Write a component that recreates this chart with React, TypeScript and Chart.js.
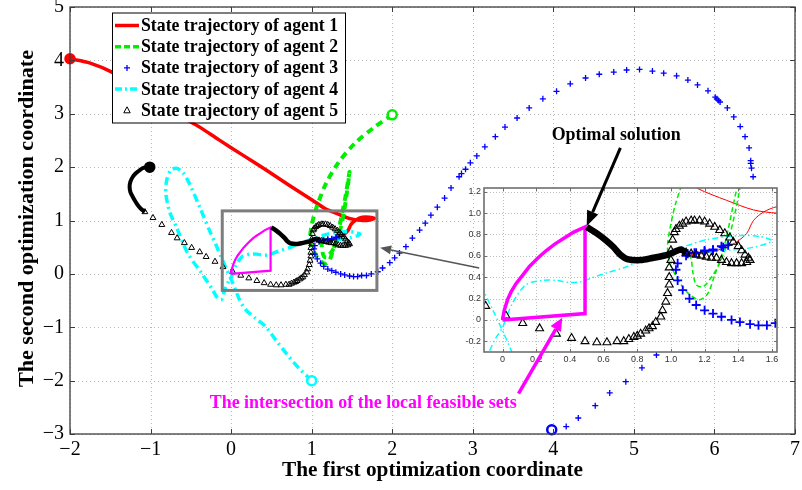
import React, { useEffect, useRef } from "react";
import { Chart, registerables } from "chart.js";
Chart.register(...registerables);

type P = [number, number];

// ---------- axis ticks ----------
const xTickValues = [-2, -1, 0, 1, 2, 3, 4, 5, 6, 7];
const yTickValues = [-3, -2, -1, 0, 1, 2, 3, 4, 5];
const insetXTickValues = [0, 0.2, 0.4, 0.6, 0.8, 1, 1.2, 1.4, 1.6];
const insetYTickValues = [-0.2, 0, 0.2, 0.4, 0.6, 0.8, 1, 1.2];

// ---------- texts ----------
const legendLabels = [
  "State trajectory of agent 1",
  "State trajectory of agent 2",
  "State trajectory of agent 3",
  "State trajectory of agent 4",
  "State trajectory of agent 5",
];
const xTitle = "The first optimization coordinate";
const yTitle = "The second optimization coordinate";
const optimalLabel = "Optimal solution";
const feasibleLabel = "The intersection of the local feasible sets";

// ---------- data ----------
const agent1: P[] = [
  [-2.0, 4.03], [-1.75, 3.95], [-1.48, 3.78], [-1.2, 3.52], [-0.9, 3.2], [-0.6, 2.93],
  [-0.38, 2.74], [-0.15, 2.51], [0.15, 2.22], [0.43, 1.95], [0.72, 1.66], [1.0, 1.39],
  [1.16, 1.23], [1.33, 1.12], [1.49, 1.03], [1.63, 1.0], [1.72, 1.01], [1.78, 1.04],
  [1.72, 1.06], [1.63, 1.06], [1.55, 1.01], [1.49, 0.93], [1.45, 0.81], [1.39, 0.73],
  [1.33, 0.68], [1.22, 0.63], [1.12, 0.61],
];

const agent2: P[] = [
  [2.0, 2.98], [1.78, 2.75], [1.54, 2.45], [1.33, 2.08], [1.18, 1.7], [1.08, 1.33],
  [1.03, 1.1], [1.0, 0.9], [0.98, 0.7], [0.99, 0.55], [1.02, 0.44], [1.06, 0.33],
  [1.11, 0.24], [1.17, 0.19], [1.22, 0.25], [1.26, 0.42], [1.31, 0.65], [1.34, 0.85],
  [1.38, 1.15], [1.42, 1.45], [1.47, 1.91], [1.44, 1.55], [1.4, 1.15], [1.35, 0.8],
  [1.29, 0.53], [1.24, 0.4], [1.19, 0.31], [1.15, 0.33], [1.13, 0.45], [1.12, 0.57],
  [1.1, 0.62],
];

const agent3: P[] = [
  [3.98, -2.92], [4.16, -2.86], [4.31, -2.7], [4.52, -2.47], [4.7, -2.23], [4.9, -2.02],
  [5.1, -1.76], [5.28, -1.52], [5.45, -1.25], [5.62, -0.97], [5.8, -0.66], [5.96, -0.33],
  [6.1, 0.02], [6.23, 0.38], [6.34, 0.75], [6.42, 1.12], [6.46, 1.48], [6.48, 1.82],
  [6.46, 1.98], [6.45, 2.07], [6.45, 2.12], [6.43, 2.36], [6.38, 2.57], [6.32, 2.76],
  [6.24, 2.94], [6.16, 3.11], [6.07, 3.22], [6.05, 3.25], [6.03, 3.28], [6.01, 3.31],
  [5.92, 3.43], [5.79, 3.54], [5.67, 3.63], [5.53, 3.71], [5.37, 3.76], [5.23, 3.8],
  [5.07, 3.83], [4.91, 3.82], [4.75, 3.78], [4.57, 3.74], [4.4, 3.67], [4.21, 3.56],
  [4.04, 3.42], [3.87, 3.28], [3.7, 3.11], [3.55, 2.92], [3.4, 2.75], [3.28, 2.57],
  [3.15, 2.38], [3.05, 2.21], [2.97, 2.08], [2.91, 1.96], [2.86, 1.88], [2.83, 1.82],
  [2.73, 1.61], [2.65, 1.42], [2.56, 1.25], [2.48, 1.1], [2.41, 0.95], [2.34, 0.82],
  [2.25, 0.67], [2.17, 0.51], [2.09, 0.39], [2.03, 0.3], [1.97, 0.21], [1.88, 0.11],
  [1.82, 0.04], [1.74, 0.0], [1.68, -0.03], [1.62, -0.03], [1.57, -0.05], [1.52, -0.05],
  [1.47, -0.04], [1.41, -0.02], [1.36, 0.0], [1.3, 0.03], [1.25, 0.06], [1.2, 0.09],
  [1.15, 0.14], [1.11, 0.2], [1.07, 0.28], [1.04, 0.37], [1.03, 0.47], [1.04, 0.53],
  [1.09, 0.6], [1.14, 0.63], [1.2, 0.64], [1.25, 0.65], [1.31, 0.68], [1.34, 0.7],
  [1.3, 0.69], [1.25, 0.66], [1.2, 0.65], [1.15, 0.63], [1.1, 0.62],
];

const agent4: P[] = [
  [1.0, -2.0], [0.85, -1.78], [0.7, -1.52], [0.56, -1.25], [0.43, -0.99], [0.3, -0.83],
  [0.18, -0.67], [0.1, -0.47], [0.05, -0.28], [0.0, -0.1], [-0.06, 0.1], [-0.12, 0.3],
  [-0.19, 0.55], [-0.27, 0.82], [-0.39, 1.25], [-0.52, 1.7], [-0.6, 1.9], [-0.68, 1.98],
  [-0.75, 1.94], [-0.8, 1.75], [-0.81, 1.5], [-0.76, 1.15], [-0.68, 0.88], [-0.54, 0.39],
  [-0.37, 0.02], [-0.23, -0.3], [-0.17, -0.45], [-0.12, -0.48], [-0.08, -0.3], [-0.04, -0.17],
  [0.0, -0.07], [0.06, 0.16], [0.14, 0.33], [0.24, 0.37], [0.32, 0.37], [0.4, 0.35],
  [0.47, 0.36], [0.54, 0.4], [0.62, 0.44], [0.74, 0.5], [0.82, 0.56], [1.01, 0.65],
  [1.21, 0.75], [1.41, 0.79], [1.53, 0.78], [1.6, 0.74], [1.49, 0.68], [1.33, 0.65],
  [1.17, 0.63], [1.08, 0.62],
];

const agent5Head: P[] = [
  [-1.01, 2.0], [-1.08, 1.99], [-1.13, 1.95], [-1.18, 1.89], [-1.22, 1.82], [-1.25, 1.73],
  [-1.26, 1.63], [-1.25, 1.53], [-1.22, 1.44], [-1.19, 1.36], [-1.16, 1.29], [-1.12, 1.22],
  [-1.07, 1.16],
];

const agent5Path: P[] = [
  [-1.07, 1.16], [-0.97, 1.05], [-0.86, 0.92], [-0.74, 0.77], [-0.67, 0.67], [-0.58, 0.58],
  [-0.49, 0.49], [-0.39, 0.41], [-0.31, 0.32], [-0.2, 0.23], [-0.1, 0.13], [0.02, 0.04],
  [0.12, -0.03], [0.22, -0.08], [0.32, -0.13], [0.41, -0.17], [0.49, -0.2], [0.56, -0.21],
  [0.62, -0.21], [0.68, -0.2], [0.72, -0.2], [0.75, -0.18], [0.78, -0.16], [0.8, -0.15],
  [0.82, -0.13], [0.85, -0.1], [0.87, -0.08], [0.89, -0.06], [0.91, -0.02], [0.94, 0.03],
  [0.95, 0.09], [0.97, 0.17], [0.98, 0.25], [0.99, 0.33], [0.99, 0.4], [0.99, 0.49],
  [1.0, 0.56], [1.0, 0.65], [1.01, 0.75], [1.02, 0.82], [1.03, 0.85], [1.05, 0.88],
  [1.07, 0.9], [1.09, 0.92], [1.12, 0.93], [1.14, 0.93], [1.17, 0.93], [1.2, 0.92],
  [1.23, 0.9], [1.26, 0.87], [1.29, 0.84], [1.32, 0.81], [1.35, 0.77], [1.37, 0.73],
  [1.4, 0.69], [1.42, 0.65], [1.44, 0.61], [1.46, 0.58], [1.47, 0.56], [1.45, 0.54],
  [1.42, 0.53], [1.39, 0.53], [1.36, 0.53], [1.33, 0.54], [1.3, 0.56], [1.27, 0.58],
  [1.24, 0.58], [1.21, 0.59], [1.18, 0.6], [1.15, 0.61], [1.12, 0.62], [1.09, 0.63],
];

const agent5Tail: P[] = [
  [1.09, 0.63], [1.06, 0.66], [1.04, 0.65], [1.01, 0.63], [0.98, 0.61], [0.89, 0.58],
  [0.82, 0.56], [0.74, 0.57], [0.7, 0.61], [0.66, 0.68], [0.61, 0.75], [0.56, 0.81],
  [0.5, 0.87],
];

const feasibleRegion: P[] = [
  [0, 0], [0.49, 0.06], [0.49, 0.87], [0.42, 0.82], [0.36, 0.76], [0.31, 0.71],
  [0.26, 0.65], [0.21, 0.58], [0.16, 0.5], [0.12, 0.42], [0.08, 0.34], [0.05, 0.26],
  [0.03, 0.19], [0.01, 0.09], [0, 0],
];

// ---------- annotation anchors (data coordinates) ----------
const zoomBox: P[] = [[-0.11, 1.18], [1.81, -0.31]];
const zoomArrow: P[] = [[3.08, 0.11], [1.85, 0.49]]; // main coords
const optimalArrow: P[] = [[0.7, 1.61], [0.5, 0.88]]; // inset coords
const feasibleArrow: P[] = [[0.095, -0.69], [0.355, 0.02]]; // inset coords
const optimalTextAt: P = [4.78, 2.6];
const feasibleTextAt: P = [1.64, -2.43];

// ---------- colours ----------
const RED = "#ff0000";
const GREEN = "#00ee00";
const BLUE = "#0000ff";
const CYAN = "#00ffff";
const MAGENTA = "#ff00ff";
const BLACK = "#000000";

const SERIF = '"Liberation Serif", "Times New Roman", serif';
const SANS = '"Liberation Sans", Arial, sans-serif';

const xy = (a: P[]) => a.map(([x, y]) => ({ x, y }));
const minus = (v: number) => String(v).replace("-", "\u2212");

function fitText(
  ctx: CanvasRenderingContext2D, text: string, x: number, y: number, size: number,
  width: number, color: string, align: "center" | "left" = "center", rotate = 0
) {
  ctx.save();
  ctx.font = `bold ${size}px ${SERIF}`;
  const w = ctx.measureText(text).width;
  ctx.translate(x, y);
  if (rotate) ctx.rotate(rotate);
  ctx.scale(width / w, 1);
  ctx.textAlign = align;
  ctx.textBaseline = "middle";
  ctx.fillStyle = color;
  ctx.fillText(text, 0, 0);
  ctx.restore();
}

function arrow(
  ctx: CanvasRenderingContext2D, x1: number, y1: number, x2: number, y2: number,
  color: string, width: number, headLen: number, headHalf: number
) {
  const a = Math.atan2(y2 - y1, x2 - x1);
  const bx = x2 - headLen * Math.cos(a);
  const by = y2 - headLen * Math.sin(a);
  ctx.save();
  ctx.setLineDash([]);
  ctx.strokeStyle = color;
  ctx.fillStyle = color;
  ctx.lineWidth = width;
  ctx.beginPath();
  ctx.moveTo(x1, y1);
  ctx.lineTo(bx, by);
  ctx.stroke();
  ctx.beginPath();
  ctx.moveTo(x2, y2);
  ctx.lineTo(bx - headHalf * Math.sin(a), by + headHalf * Math.cos(a));
  ctx.lineTo(bx + headHalf * Math.sin(a), by - headHalf * Math.cos(a));
  ctx.closePath();
  ctx.fill();
  ctx.restore();
}

type Style = {
  red: number; green: number; greenDash: number[]; cyan: number; cyanDash: number[];
  magenta: number; cross: number; crossW: number; tri: number; triW: number;
  tail: number; head: number;
};

const mainStyle: Style = {
  red: 3.5, green: 4, greenDash: [7, 5], cyan: 3.5, cyanDash: [8, 4, 2, 4],
  magenta: 2.2, cross: 3, crossW: 1.3, tri: 3.4, triW: 1, tail: 4.5, head: 4,
};
const insetStyle: Style = {
  red: 1, green: 1.5, greenDash: [5, 3], cyan: 1.5, cyanDash: [6, 3, 1.5, 3],
  magenta: 3.5, cross: 4.5, crossW: 1.8, tri: 4.6, triW: 1.1, tail: 6.5, head: 4,
};

function datasets(s: Style, clip: any, withStarts: boolean) {
  const line = (data: P[], color: string, width: number, dash: number[] = []) => ({
    data: xy(data), showLine: true, borderColor: color, borderWidth: width, borderDash: dash,
    pointRadius: 0, fill: false, tension: 0.3, clip,
  });
  const ds: any[] = [
    line(agent5Tail, BLACK, s.tail),
    { ...line(feasibleRegion, MAGENTA, s.magenta), tension: 0 },
    line(agent5Head, BLACK, s.head),
    {
      data: xy(agent5Path), showLine: false, pointStyle: "triangle", pointRadius: s.tri,
      pointBorderColor: BLACK, pointBackgroundColor: "rgba(255,255,255,0)", pointBorderWidth: s.triW, clip,
    },
    {
      data: xy(agent3), showLine: false, pointStyle: "cross", pointRadius: s.cross,
      pointBorderColor: BLUE, pointBorderWidth: s.crossW, clip,
    },
    line(agent4, CYAN, s.cyan, s.cyanDash),
    line(agent2, GREEN, s.green, s.greenDash),
    line(agent1, RED, s.red),
  ];
  if (withStarts) {
    const start = (p: P, color: string, fillColor: string) => ({
      data: xy([p]), showLine: false, pointStyle: "circle", pointRadius: 4.5,
      pointBorderColor: color, pointBackgroundColor: fillColor, pointBorderWidth: 2.5, clip,
    });
    ds.unshift(
      start(agent1[0], RED, RED),
      start(agent2[0], GREEN, "#ffffff"),
      start(agent3[0], BLUE, "#ffffff"),
      start(agent4[0], CYAN, "#ffffff"),
      start(agent5Head[0], BLACK, BLACK),
    );
  }
  return ds;
}

function drawGrid(chart: any, xs: number[], ys: number[], color: string, dash: number[]) {
  const { ctx, chartArea: a, scales } = chart;
  ctx.save();
  ctx.strokeStyle = color;
  ctx.lineWidth = 1;
  ctx.setLineDash(dash);
  xs.forEach((v) => {
    const p = Math.round(scales.x.getPixelForValue(v)) + 0.5;
    ctx.beginPath(); ctx.moveTo(p, a.top); ctx.lineTo(p, a.bottom); ctx.stroke();
  });
  ys.forEach((v) => {
    const p = Math.round(scales.y.getPixelForValue(v)) + 0.5;
    ctx.beginPath(); ctx.moveTo(a.left, p); ctx.lineTo(a.right, p); ctx.stroke();
  });
  ctx.restore();
}

function drawFrame(chart: any, xs: number[], ys: number[], color: string, width: number, tick: number) {
  const { ctx, chartArea: a, scales } = chart;
  ctx.save();
  ctx.setLineDash([]);
  ctx.strokeStyle = color;
  ctx.lineWidth = width;
  ctx.strokeRect(a.left, a.top, a.right - a.left, a.bottom - a.top);
  ctx.lineWidth = 1;
  xs.forEach((v) => {
    const p = Math.round(scales.x.getPixelForValue(v)) + 0.5;
    ctx.beginPath(); ctx.moveTo(p, a.bottom); ctx.lineTo(p, a.bottom - tick); ctx.stroke();
    ctx.beginPath(); ctx.moveTo(p, a.top); ctx.lineTo(p, a.top + tick); ctx.stroke();
  });
  ys.forEach((v) => {
    const p = Math.round(scales.y.getPixelForValue(v)) + 0.5;
    ctx.beginPath(); ctx.moveTo(a.left, p); ctx.lineTo(a.left + tick, p); ctx.stroke();
    ctx.beginPath(); ctx.moveTo(a.right, p); ctx.lineTo(a.right - tick, p); ctx.stroke();
  });
  ctx.restore();
}

const mainDecor = {
  id: "mainDecor",
  beforeDatasetsDraw(chart: any) {
    drawGrid(chart, xTickValues, yTickValues, "#b8b8b8", [1, 3]);
  },
  afterDatasetsDraw(chart: any) {
    const { ctx, scales } = chart;
    const X = (v: number) => scales.x.getPixelForValue(v);
    const Y = (v: number) => scales.y.getPixelForValue(v);
    drawFrame(chart, xTickValues, yTickValues, "#3c3c3c", 1.3, 5);
    // zoom rectangle
    ctx.save();
    ctx.strokeStyle = "#7d7d7d";
    ctx.lineWidth = 3;
    ctx.setLineDash([]);
    const x0 = X(zoomBox[0][0]), y0 = Y(zoomBox[0][1]);
    const x1 = X(zoomBox[1][0]), y1 = Y(zoomBox[1][1]);
    ctx.strokeRect(x0, y0, x1 - x0, y1 - y0);
    ctx.restore();
    arrow(ctx, X(zoomArrow[0][0]), Y(zoomArrow[0][1]), X(zoomArrow[1][0]), Y(zoomArrow[1][1]), "#555555", 1.6, 11, 4.5);
  },
  afterDraw(chart: any) {
    const { ctx, chartArea: a, scales } = chart;
    const X = (v: number) => scales.x.getPixelForValue(v);
    const Y = (v: number) => scales.y.getPixelForValue(v);
    // legend
    const lx = a.left + 42, ly = a.top + 5.5, lw = 233, lh = 110;
    ctx.save();
    ctx.fillStyle = "#ffffff";
    ctx.fillRect(lx, ly, lw, lh);
    ctx.strokeStyle = "#000000";
    ctx.lineWidth = 1;
    ctx.strokeRect(lx + 0.5, ly + 0.5, lw, lh);
    const sx0 = lx + 3, sx1 = lx + 27, sc = lx + 15;
    legendLabels.forEach((label, i) => {
      const cy = ly + 13 + i * 21.2;
      ctx.save();
      if (i === 0 || i === 1 || i === 3) {
        ctx.strokeStyle = i === 0 ? RED : i === 1 ? GREEN : CYAN;
        ctx.lineWidth = i === 0 ? 3.5 : 3.5;
        ctx.setLineDash(i === 0 ? [] : i === 1 ? [6, 3] : [7, 3, 2, 3]);
        ctx.beginPath(); ctx.moveTo(sx0, cy); ctx.lineTo(sx1, cy); ctx.stroke();
      } else if (i === 2) {
        ctx.strokeStyle = BLUE; ctx.lineWidth = 1.3;
        ctx.beginPath(); ctx.moveTo(sc - 3, cy); ctx.lineTo(sc + 3, cy);
        ctx.moveTo(sc, cy - 3); ctx.lineTo(sc, cy + 3); ctx.stroke();
      } else {
        ctx.strokeStyle = BLACK; ctx.lineWidth = 1;
        ctx.beginPath(); ctx.moveTo(sc, cy - 3.5); ctx.lineTo(sc + 3.2, cy + 2.5); ctx.lineTo(sc - 3.2, cy + 2.5);
        ctx.closePath(); ctx.stroke();
      }
      ctx.restore();
      fitText(ctx, label, lx + 29, cy + 0.5, 19, 197, "#000000", "left");
    });
    ctx.restore();
    // texts
    fitText(ctx, optimalLabel, X(optimalTextAt[0]), Y(optimalTextAt[1]), 18.5, 129, "#000000");
    fitText(ctx, feasibleLabel, X(feasibleTextAt[0]), Y(feasibleTextAt[1]), 18, 307, MAGENTA);
    // axis titles
    fitText(ctx, xTitle, (a.left + a.right) / 2, a.bottom + 36, 22, 301, "#000000");
    fitText(ctx, yTitle, 27, (a.top + a.bottom) / 2 - 2, 22, 337, "#000000", "center", -Math.PI / 2);
  },
};

const insetDecor = {
  id: "insetDecor",
  beforeDraw(chart: any) {
    const { ctx, chartArea: a } = chart;
    ctx.save();
    ctx.fillStyle = "#ffffff";
    ctx.fillRect(a.left, a.top, a.right - a.left, a.bottom - a.top);
    ctx.restore();
  },
  beforeDatasetsDraw(chart: any) {
    drawGrid(chart, insetXTickValues, insetYTickValues, "#bdbdbd", [1, 2]);
  },
  afterDatasetsDraw(chart: any) {
    drawFrame(chart, insetXTickValues, insetYTickValues, "#6e6e6e", 1.6, 3);
  },
  afterDraw(chart: any) {
    const { ctx, scales } = chart;
    const X = (v: number) => scales.x.getPixelForValue(v);
    const Y = (v: number) => scales.y.getPixelForValue(v);
    arrow(ctx, X(optimalArrow[0][0]), Y(optimalArrow[0][1]), X(optimalArrow[1][0]), Y(optimalArrow[1][1]), "#000000", 3, 15, 6);
    arrow(ctx, X(feasibleArrow[0][0]), Y(feasibleArrow[0][1]), X(feasibleArrow[1][0]), Y(feasibleArrow[1][1]), MAGENTA, 3.5, 13, 6);
  },
};

function fixedAxis(size: number, vertical: boolean) {
  return (s: any) => {
    if (vertical) s.width = size; else s.height = size;
    s.paddingLeft = 0; s.paddingRight = 0; s.paddingTop = 0; s.paddingBottom = 0;
  };
}

function mainConfig(): any {
  return {
    type: "scatter",
    data: { datasets: datasets(mainStyle, false, true) },
    plugins: [mainDecor],
    options: {
      animation: false, responsive: false, devicePixelRatio: 1, events: [],
      layout: { padding: { left: 0, top: 7, right: 3, bottom: 0 } },
      plugins: { legend: { display: false }, tooltip: { enabled: false } },
      scales: {
        x: {
          type: "linear", min: -2, max: 7,
          afterBuildTicks: (s: any) => { s.ticks = xTickValues.map((value) => ({ value })); },
          afterFit: fixedAxis(56, false),
          grid: { display: false, drawTicks: false }, border: { display: false },
          ticks: { padding: 4, color: "#000", font: { family: SERIF, size: 20 }, maxRotation: 0, autoSkip: false, callback: (v: number) => minus(v) },
        },
        y: {
          type: "linear", min: -3, max: 5,
          afterBuildTicks: (s: any) => { s.ticks = yTickValues.map((value) => ({ value })); },
          afterFit: fixedAxis(70, true),
          grid: { display: false, drawTicks: false }, border: { display: false },
          ticks: { padding: 6, color: "#000", font: { family: SERIF, size: 20 }, autoSkip: false, callback: (v: number) => minus(v) },
        },
      },
    },
  };
}

function insetConfig(): any {
  return {
    type: "scatter",
    data: { datasets: datasets(insetStyle, 0, false) },
    plugins: [insetDecor],
    options: {
      animation: false, responsive: false, devicePixelRatio: 1, events: [],
      layout: { padding: { left: 460, top: 188, right: 25, bottom: 122 } },
      plugins: { legend: { display: false }, tooltip: { enabled: false } },
      scales: {
        x: {
          type: "linear", min: -0.11, max: 1.63,
          afterBuildTicks: (s: any) => { s.ticks = insetXTickValues.map((value) => ({ value })); },
          afterFit: fixedAxis(16, false),
          grid: { display: false, drawTicks: false }, border: { display: false },
          ticks: { padding: 2, color: "#333", font: { family: SANS, size: 9 }, maxRotation: 0, autoSkip: false },
        },
        y: {
          type: "linear", min: -0.3, max: 1.235,
          afterBuildTicks: (s: any) => { s.ticks = insetYTickValues.map((value) => ({ value })); },
          afterFit: fixedAxis(24, true),
          grid: { display: false, drawTicks: false }, border: { display: false },
          ticks: { padding: 3, color: "#333", font: { family: SANS, size: 9 }, autoSkip: false },
        },
      },
    },
  };
}

export default function App() {
  const mainRef = useRef<HTMLCanvasElement>(null);
  const insetRef = useRef<HTMLCanvasElement>(null);
  useEffect(() => {
    const main = new Chart(mainRef.current as HTMLCanvasElement, mainConfig());
    const inset = new Chart(insetRef.current as HTMLCanvasElement, insetConfig());
    return () => {
      main.destroy();
      inset.destroy();
    };
  }, []);
  const cs: React.CSSProperties = { position: "absolute", left: 0, top: 0, width: 802, height: 490 };
  return (
    <div style={{ position: "fixed", left: 0, top: 0, width: 802, height: 490, background: "#ffffff" }}>
      <canvas ref={mainRef} width={802} height={490} style={cs} />
      <canvas ref={insetRef} width={802} height={490} style={cs} />
    </div>
  );
}
